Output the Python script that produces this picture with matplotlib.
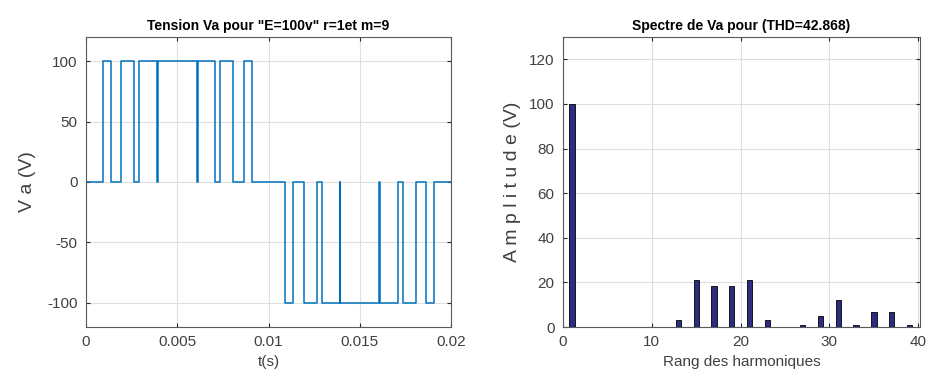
import numpy as np
import matplotlib
matplotlib.use("Agg")
import matplotlib.pyplot as plt

plt.rcParams['font.family'] = ['Liberation Sans', 'DejaVu Sans']
plt.rcParams['axes.unicode_minus'] = False

# ---- Data ----
# Switching instants (ms) of the output voltage over one period, and level after each instant (V)
switch_ms = [0.0, 0.93, 1.35, 1.92, 2.65, 2.92, 3.90, 3.93, 6.08, 6.11, 7.08, 7.35, 8.08, 8.65, 9.07,
             10.93, 11.35, 11.92, 12.65, 12.92, 13.90, 13.93, 16.08, 16.11, 17.08, 17.35, 18.08, 18.65, 19.07]
levels_V = [0, 100, 0, 100, 0, 100, 0, 100, 0, 100, 0, 100, 0, 100, 0,
            -100, 0, -100, 0, -100, 0, -100, 0, -100, 0, -100, 0, -100, 0]
t_end_ms = 20.0

harm_rank = [1, 11, 13, 15, 17, 19, 21, 23, 25, 27, 29, 31, 33, 35, 37, 39]
harm_amp = [100, 0.2, 3.3, 21.2, 18.2, 18.2, 21.2, 3.3, 0.2, 1.0, 5.1, 11.9, 1.0, 6.7, 6.7, 1.0]

left_title = 'Tension Va pour "E=100v" r=1et m=9'
right_title = 'Spectre de Va pour (THD=42.868)'

# ---- Figure ----
fig = plt.figure(figsize=(9.28, 3.85), dpi=100)
ax1 = fig.add_axes([0.0927, 0.1506, 0.3933, 0.7534])
ax2 = fig.add_axes([0.6067, 0.1506, 0.3847, 0.7534])

text_col = '#404040'
axis_col = '#262626'
grid_col = '#dfdfdf'

t = np.array(switch_ms + [t_end_ms]) / 1000.0
v = np.array(levels_V + [levels_V[-1]])
ax1.step(t, v, where='post', color='#0072BD', lw=1.1)
ax1.set_xlim(0, 0.02)
ax1.set_ylim(-120, 120)
ax1.set_xticks([0, 0.005, 0.01, 0.015, 0.02])
ax1.set_xticklabels(['0', '0.005', '0.01', '0.015', '0.02'])
ax1.set_yticks([-100, -50, 0, 50, 100])
ax1.set_title(left_title, fontsize=10, fontweight='bold', color='black', pad=5)
ax1.set_xlabel('t(s)', fontsize=11, color=text_col, labelpad=4)
ax1.set_ylabel('V a (V)', fontsize=14, color=text_col, labelpad=8)

ax2.bar(harm_rank, harm_amp, width=0.6, color='#2E2C7E', edgecolor='black', linewidth=0.6, zorder=3)
ax2.set_xlim(0, 40.2)
ax2.set_ylim(0, 130)
ax2.set_xticks([0, 10, 20, 30, 40])
ax2.set_yticks([0, 20, 40, 60, 80, 100, 120])
ax2.set_title(right_title, fontsize=10, fontweight='bold', color='black', pad=5)
ax2.set_xlabel('Rang des harmoniques', fontsize=11, color=text_col, labelpad=4)
ax2.set_ylabel('A m p l i t u d e (V)', fontsize=14, color=text_col, labelpad=6)

for ax in (ax1, ax2):
    ax.grid(True, color=grid_col, lw=0.8, zorder=0)
    ax.set_axisbelow(True)
    ax.tick_params(direction='in', top=True, right=True, length=3, labelsize=11,
                   colors=axis_col, labelcolor=text_col, pad=6)
    for s in ax.spines.values():
        s.set_color('#5a5a5a')
        s.set_linewidth(0.8)

fig.savefig('out.png', dpi=100)
